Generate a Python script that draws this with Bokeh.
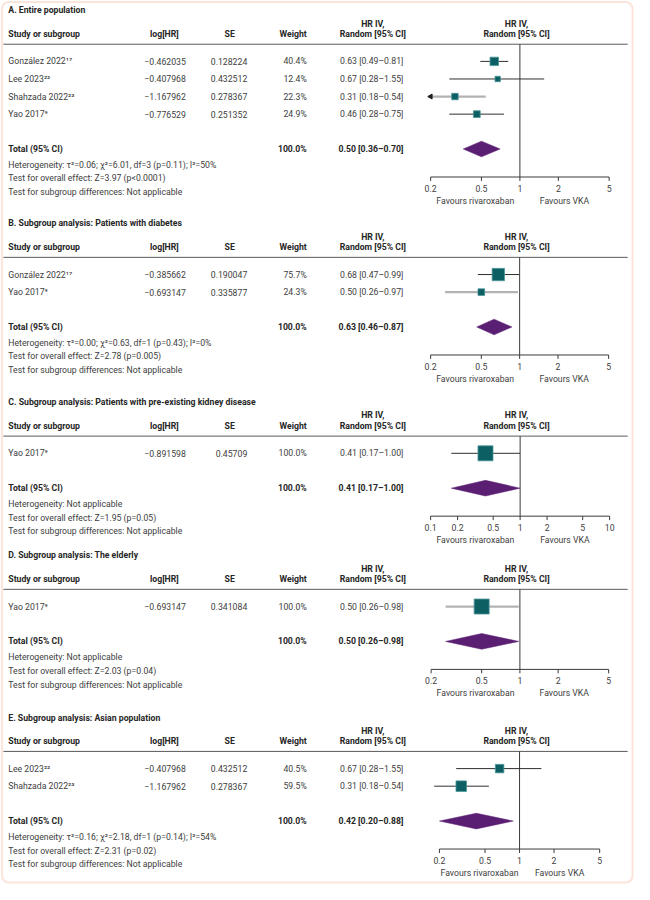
import math
import numpy as np
from bokeh.plotting import figure
from bokeh.models import Range1d, LogScale, BoxAnnotation
from bokeh.core.properties import value
from bokeh.embed import file_html
from bokeh.resources import INLINE

# ------------------------------------------------------------------ data
titles = [
    "A. Entire population",
    "B. Subgroup analysis: Patients with diabetes",
    "C. Subgroup analysis: Patients with pre-existing kidney disease",
    "D. Subgroup analysis: The elderly",
    "E. Subgroup analysis: Asian population",
]

A_studies = ["González 2022¹⁷", "Lee 2023²²", "Shahzada 2022²³", "Yao 2017⁹"]
A_loghr = [-0.462035, -0.407968, -1.167962, -0.776529]
A_se = [0.128224, 0.432512, 0.278367, 0.251352]
A_weight = [40.4, 12.4, 22.3, 24.9]
A_hr = [0.63, 0.67, 0.31, 0.46]
A_lo = [0.49, 0.28, 0.18, 0.28]
A_hi = [0.81, 1.55, 0.54, 0.75]
A_total = [0.50, 0.36, 0.70]
A_het = "Heterogeneity: τ²=0.06; χ²=6.01, df=3 (p=0.11); I²=50%"
A_z = "Test for overall effect: Z=3.97 (p<0.0001)"

B_studies = ["González 2022¹⁷", "Yao 2017⁹"]
B_loghr = [-0.385662, -0.693147]
B_se = [0.190047, 0.335877]
B_weight = [75.7, 24.3]
B_hr = [0.68, 0.50]
B_lo = [0.47, 0.26]
B_hi = [0.99, 0.97]
B_total = [0.63, 0.46, 0.87]
B_het = "Heterogeneity: τ²=0.00; χ²=0.63, df=1 (p=0.43); I²=0%"
B_z = "Test for overall effect: Z=2.78 (p=0.005)"

C_studies = ["Yao 2017⁹"]
C_loghr = [-0.891598]
C_se = [0.45709]
C_weight = [100.0]
C_hr = [0.41]
C_lo = [0.17]
C_hi = [1.00]
C_total = [0.41, 0.17, 1.00]
C_het = "Heterogeneity: Not applicable"
C_z = "Test for overall effect: Z=1.95 (p=0.05)"

D_studies = ["Yao 2017⁹"]
D_loghr = [-0.693147]
D_se = [0.341084]
D_weight = [100.0]
D_hr = [0.50]
D_lo = [0.26]
D_hi = [0.98]
D_total = [0.50, 0.26, 0.98]
D_het = "Heterogeneity: Not applicable"
D_z = "Test for overall effect: Z=2.03 (p=0.04)"

E_studies = ["Lee 2023²²", "Shahzada 2022²³"]
E_loghr = [-0.407968, -1.167962]
E_se = [0.432512, 0.278367]
E_weight = [40.5, 59.5]
E_hr = [0.67, 0.31]
E_lo = [0.28, 0.18]
E_hi = [1.55, 0.54]
E_total = [0.42, 0.20, 0.88]
E_het = "Heterogeneity: τ²=0.16; χ²=2.18, df=1 (p=0.14); I²=54%"
E_z = "Test for overall effect: Z=2.31 (p=0.02)"

subgroup_text = "Test for subgroup differences: Not applicable"
ticks_std = [0.2, 0.5, 1, 2, 5]
ticks_wide = [0.1, 0.2, 0.5, 1, 2, 5, 10]

# ------------------------------------------------------------------ layout / style
W, H = 634, 884          # canvas px
XW, YH = 650, 900        # layout units
FONT = value("Roboto")
FS = value("8.7px")
TXT = "#404040"
BOLD = "#262626"
SQ_FILL = "#0c5f63"
SQ_LINE = "#4b9497"
DIA = "#5a1f73"
CI_DARK = "#2f2f2f"
CI_GRAY = "#b3b3b3"

panels = [
    dict(title=titles[0], ty=10, studies=A_studies, loghr=A_loghr, se=A_se, w=A_weight,
         hr=A_hr, lo=A_lo, hi=A_hi, tot=A_total, het=A_het, z=A_z,
         ticks=ticks_std, px=(441, 624), clip=True, gray=[False, False, True, False]),
    dict(title=titles[1], ty=227, studies=B_studies, loghr=B_loghr, se=B_se, w=B_weight,
         hr=B_hr, lo=B_lo, hi=B_hi, tot=B_total, het=B_het, z=B_z,
         ticks=ticks_std, px=(441, 623.5), clip=True, gray=[False, True]),
    dict(title=titles[2], ty=409, studies=C_studies, loghr=C_loghr, se=C_se, w=C_weight,
         hr=C_hr, lo=C_lo, hi=C_hi, tot=C_total, het=C_het, z=C_z,
         ticks=ticks_wide, px=(441, 624.5), clip=True, gray=[False]),
    dict(title=titles[3], ty=565, studies=D_studies, loghr=D_loghr, se=D_se, w=D_weight,
         hr=D_hr, lo=D_lo, hi=D_hi, tot=D_total, het=D_het, z=D_z,
         ticks=ticks_std, px=(441.5, 623.5), clip=True, gray=[True]),
    dict(title=titles[4], ty=730, studies=E_studies, loghr=E_loghr, se=E_se, w=E_weight,
         hr=E_hr, lo=E_lo, hi=E_hi, tot=E_total, het=E_het, z=E_z,
         ticks=ticks_std, px=(450, 614.3), clip=False, gray=[False, False]),
]

X_STUDY, X_LOGHR, X_SE, X_W, X_HRCI = 8, 190, 253, 314, 413
X_LOGHR_H, X_SE_H, X_HR_H, X_FOREST_H = 168, 235, 381.7, 529
ROW = 17.9

p = figure(width=W, height=H, x_range=Range1d(0, XW), y_range=Range1d(YH, 0),
           output_backend="svg", toolbar_location=None, min_border=0,
           x_axis_location=None, y_axis_location=None)
p.xgrid.visible = False
p.ygrid.visible = False
p.outline_line_color = None
p.background_fill_color = "white"
p.border_fill_color = "white"

# log scales for each forest column
xr, xs = {}, {}
for k, P in enumerate(panels):
    l0, l1 = math.log10(P["ticks"][0]), math.log10(P["ticks"][-1])
    per = (l1 - l0) / (P["px"][1] - P["px"][0])
    xr[f"f{k}"] = Range1d(10 ** (l0 - P["px"][0] * per), 10 ** (l0 + (XW - P["px"][0]) * per))
    xs[f"f{k}"] = LogScale()
p.extra_x_ranges = xr
p.extra_x_scales = xs


def txt(x, y, t, align="left", bold=False, rng="default", color=None):
    p.text(x=x, y=y, text=t, x_range_name=rng, text_font=FONT, text_font_size=FS,
           text_align=align, text_baseline="middle",
           text_font_style="bold" if bold else "normal",
           text_color=color or (BOLD if bold else TXT))


def num(v):
    return str(v).replace("-", "−")


for k, P in enumerate(panels):
    rng = f"f{k}"
    ty = P["ty"]
    h1, h2, hline = ty + 13.5, ty + 24, ty + 34.5
    n = len(P["studies"])
    rows = [ty + 52 + i * ROW for i in range(n)]
    ytot = rows[-1] + 35.5
    yaxis = ytot + 28.5

    # title and headers
    txt([X_STUDY], [ty], [P["title"]], bold=True)
    txt([X_STUDY], [h2], ["Study or subgroup"], bold=True)
    txt([X_LOGHR_H], [h2], ["log[HR]"], align="center", bold=True)
    txt([X_SE_H], [h2], ["SE"], align="center", bold=True)
    txt([X_W], [h2], ["Weight"], align="right", bold=True)
    txt([X_HR_H, X_HR_H], [h1, h2], ["HR IV,", "Random [95% CI]"], align="center", bold=True)
    txt([X_FOREST_H, X_FOREST_H], [h1, h2], ["HR IV,", "Random [95% CI]"], align="center", bold=True)
    p.segment(x0=[3], x1=[643], y0=[hline], y1=[hline], line_color="#5a5a5a", line_width=1)

    # study rows
    txt([X_STUDY] * n, rows, P["studies"])
    txt([X_LOGHR] * n, rows, [num(v) for v in P["loghr"]], align="right")
    txt([X_SE] * n, rows, [num(v) for v in P["se"]], align="right")
    txt([X_W] * n, rows, [f"{v:.1f}%" for v in P["w"]], align="right")
    txt([X_HRCI] * n, rows, [f"{a:.2f} [{b:.2f}–{c:.2f}]" for a, b, c in zip(P["hr"], P["lo"], P["hi"])],
        align="right")

    # total & footers
    tot = P["tot"]
    txt([X_STUDY], [ytot], ["Total (95% CI)"], bold=True)
    txt([X_W], [ytot], ["100.0%"], align="right", bold=True)
    txt([X_HRCI], [ytot], [f"{tot[0]:.2f} [{tot[1]:.2f}–{tot[2]:.2f}]"], align="right", bold=True)
    txt([X_STUDY] * 3, [ytot + 16, ytot + 30, ytot + 44], [P["het"], P["z"], subgroup_text])

    # forest: reference line at 1
    tmin, tmax = P["ticks"][0], P["ticks"][-1]
    p.segment(x0=[1], x1=[1], y0=[hline], y1=[yaxis], x_range_name=rng, line_color="#3a3a3a", line_width=1)

    # CI lines
    for i in range(n):
        lo = P["lo"][i]
        clipped = P["clip"] and lo < tmin
        x0 = tmin if clipped else lo
        gray = P["gray"][i]
        p.segment(x0=[x0], x1=[P["hi"][i]], y0=[rows[i]], y1=[rows[i]], x_range_name=rng,
                  line_color=CI_GRAY if gray else CI_DARK, line_width=2.2 if gray else 1)
        if clipped:
            p.scatter(x=[tmin], y=[rows[i]], x_range_name=rng, marker="triangle", size=5,
                      angle=math.pi / 2, fill_color="#1e1e1e", line_color="#1e1e1e")
    sizes = [4 + 0.11 * w for w in P["w"]]
    p.scatter(x=P["hr"], y=rows, size=sizes, marker="square", x_range_name=rng,
              fill_color=SQ_FILL, line_color=SQ_LINE, line_width=0.8)

    # diamond
    hh = 8
    p.patch(x=[tot[1], tot[0], tot[2], tot[0]], y=[ytot, ytot - hh, ytot, ytot + hh],
            x_range_name=rng, fill_color=DIA, line_color=DIA, line_width=0.5)

    # axis
    tk = P["ticks"]
    p.segment(x0=[tmin], x1=[tmax], y0=[yaxis], y1=[yaxis], x_range_name=rng,
              line_color="#3a3a3a", line_width=1)
    p.segment(x0=tk, x1=tk, y0=[yaxis] * len(tk), y1=[yaxis + 4] * len(tk), x_range_name=rng,
              line_color="#3a3a3a", line_width=1)
    txt(tk, [yaxis + 11.5] * len(tk), [f"{t:g}" for t in tk], align="center", rng=rng)
    txt([math.sqrt(tmin), math.sqrt(tmax)], [yaxis + 24] * 2,
        ["Favours rivaroxaban", "Favours VKA"], align="center", rng=rng)

# rounded frame
try:
    frame = BoxAnnotation(left=1.5, right=648, top=1.5, bottom=898, fill_alpha=0,
                          line_color="#f1a486", line_width=2, border_radius=7)
except Exception:
    frame = BoxAnnotation(left=1.5, right=648, top=1.5, bottom=898, fill_alpha=0,
                          line_color="#f1a486", line_width=2)
p.add_layout(frame)

open("out.html", "w").write(file_html(p, INLINE))
